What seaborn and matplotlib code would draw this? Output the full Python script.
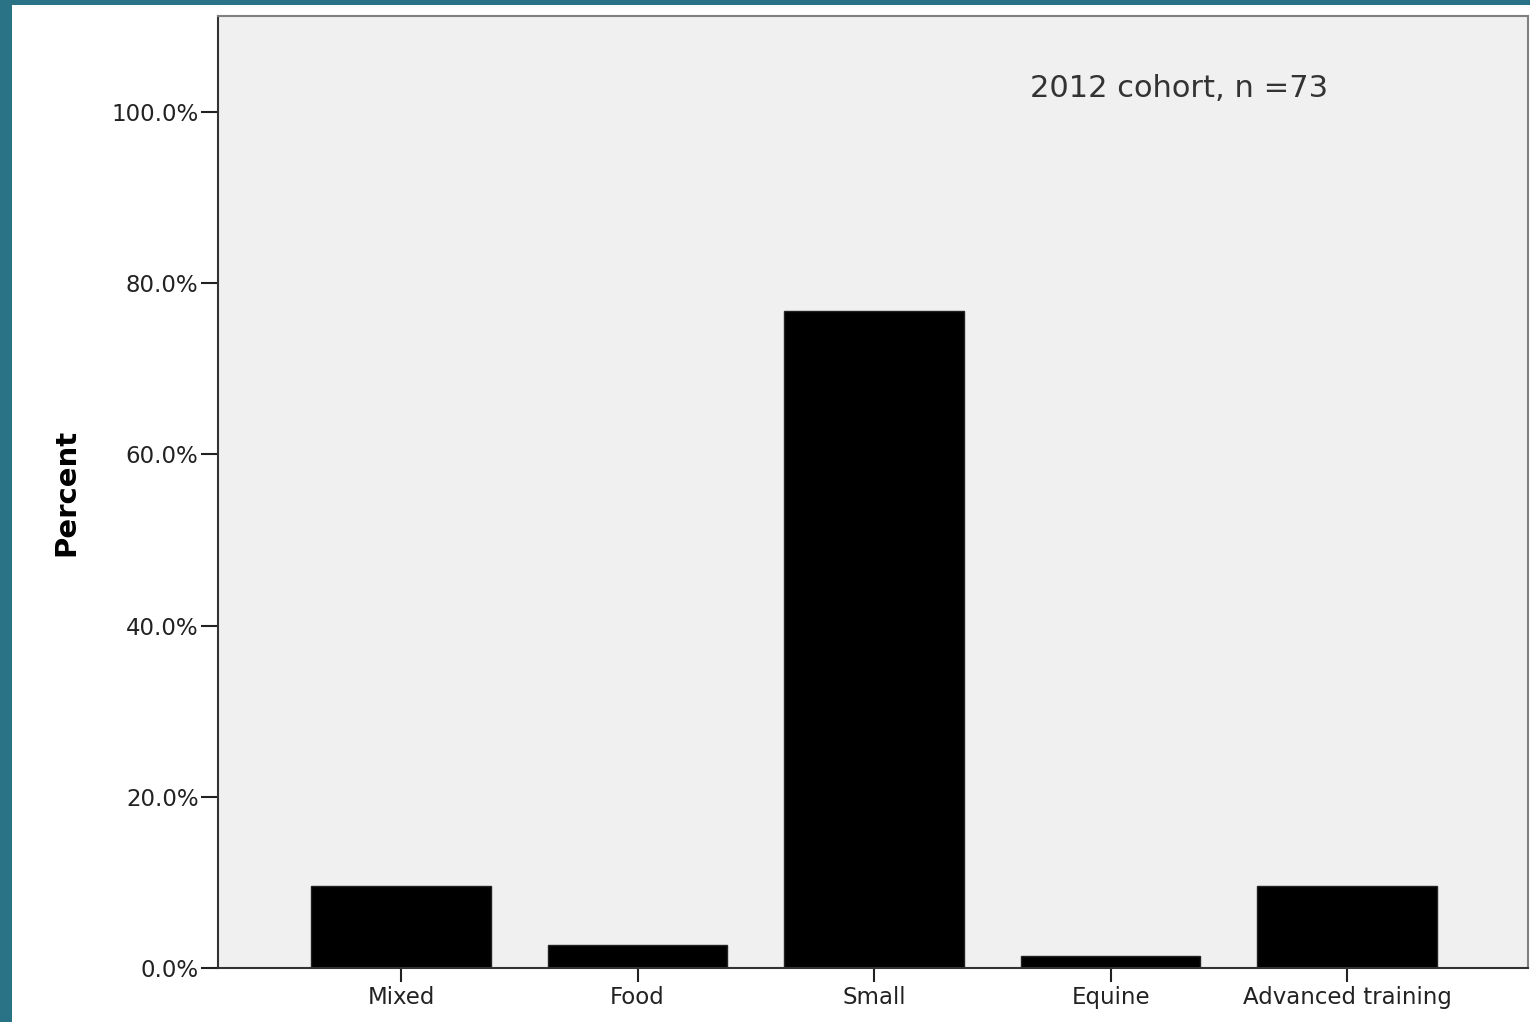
import matplotlib
matplotlib.use("Agg")
import matplotlib.pyplot as plt
import seaborn as sns
import pandas as pd
from matplotlib.patches import Rectangle
from matplotlib.ticker import PercentFormatter

# percent of the 2012 cohort (n = 73) in each track
categories = ["Mixed", "Food", "Small", "Equine", "Advanced training"]
percents = [9.6, 2.7, 76.7, 1.4, 9.6]
y_ticks = [0, 20, 40, 60, 80, 100]

df = pd.DataFrame({"track": categories, "pct": percents})

sns.set_theme(style="white")
plt.rcParams['font.family'] = ['DejaVu Sans']

fig = plt.figure(figsize=(15.3, 10.22), dpi=100)
fig.patch.set_facecolor("#2a7286")
# white page inside the teal frame (frame on top and left only)
fig.add_artist(Rectangle((12 / 1530, 0), 1, 1 - 5 / 1022, transform=fig.transFigure,
                         facecolor="white", edgecolor="none", zorder=-10))

ax = fig.add_axes([218 / 1530, 1 - 968 / 1022, 1310 / 1530, 952 / 1022])
ax.set_facecolor("#f0f0f0")

sns.barplot(data=df, x="track", y="pct", color="black", saturation=1,
            width=0.76, edgecolor="#222222", linewidth=1, ax=ax)

ax.set_xlim(-0.774, 4.765)
ax.set_ylim(0, 111.2)
ax.set_yticks(y_ticks)
ax.yaxis.set_major_formatter(PercentFormatter(decimals=1))

ax.tick_params(axis="y", left=True, length=12, width=1.5, color="#222222",
               labelsize=16.5, labelcolor="#222222", pad=2)
ax.tick_params(axis="x", bottom=True, length=10, width=1.5, color="#222222",
               labelsize=16.5, labelcolor="#222222", pad=3)

ax.set_xlabel("")
ax.set_ylabel("Percent", fontsize=21, fontweight="bold", color="black")
ax.yaxis.set_label_coords(-0.105, 0.5)

for side in ["left", "bottom"]:
    ax.spines[side].set_color("#333333")
    ax.spines[side].set_linewidth(1.5)
for side in ["top", "right"]:
    ax.spines[side].set_color("#808080")
    ax.spines[side].set_linewidth(1.5)

ax.text(0.62, 0.924, "2012 cohort, n =73", transform=ax.transAxes,
        fontsize=22, color="#333333", ha="left", va="center")

fig.savefig("out.png", dpi=100, facecolor=fig.get_facecolor())
